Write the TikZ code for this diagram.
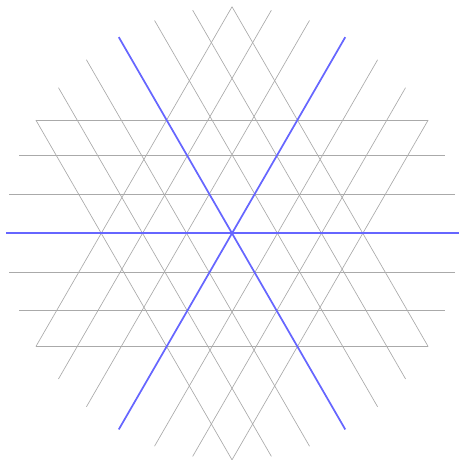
\documentclass[tikz,border=0pt]{standalone}
\usepackage{tikz}
\definecolor{gridgray}{RGB}{170,170,170}
\definecolor{axisblue}{RGB}{102,102,255}
\tikzset{
  chord/.style={gridgray, line width=0.5pt},
  axis/.style={axisblue, line width=1.3pt}
}

\begin{document}
\begin{tikzpicture}
\useasboundingbox (-6.146,-6.005) rectangle (6.0,6.18);

% points on the circle, every 10 degrees
\foreach \a in {0,10,...,350}
  \coordinate (p\a) at (\a:6);

% three families of chords
\foreach \a/\b in {330/210,340/200,350/190,10/170,20/160,30/150,
 30/270,40/260,50/250,70/230,80/220,90/210,
 90/330,100/320,110/310,130/290,140/280,150/270}
  \draw[chord] (p\a)--(p\b);

% the three lines through the centre
\foreach \a/\b in {0/180,60/240,120/300}
  \draw[axis] (p\a)--(p\b);

\end{tikzpicture}
\end{document}
